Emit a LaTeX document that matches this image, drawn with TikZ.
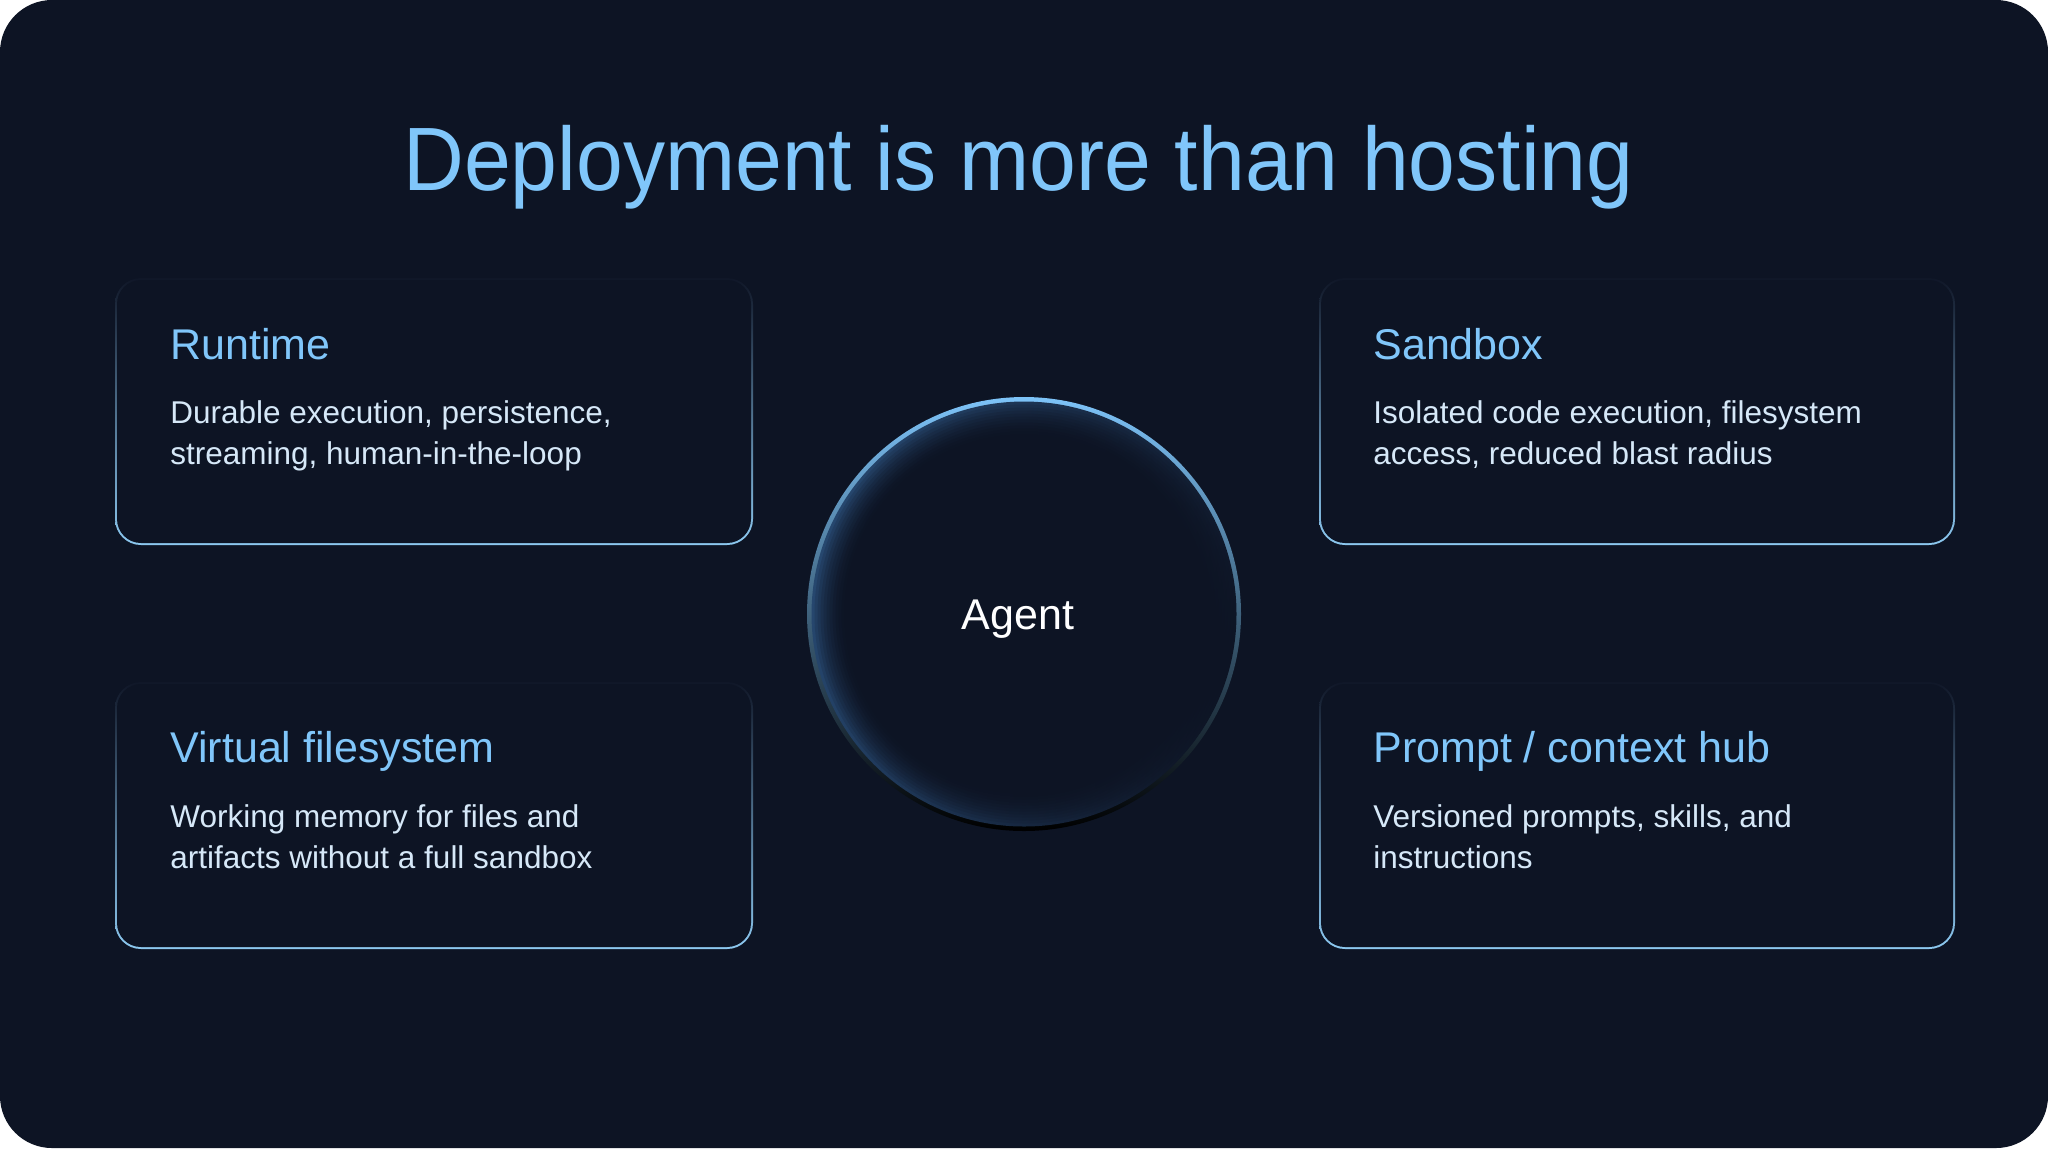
\documentclass[tikz,border=0pt]{standalone}
\usepackage{fontspec}
\setmainfont{Liberation Sans}
\definecolor{cbg}{RGB}{13,20,36}
\definecolor{ctitle}{RGB}{128,198,250}
\definecolor{cdesc}{RGB}{214,232,248}
\definecolor{cedgeb}{RGB}{140,200,240}
\definecolor{cedgem}{RGB}{42,60,86}
\definecolor{cedget}{RGB}{16,23,40}
\definecolor{cring}{RGB}{125,195,248}
\definecolor{cringm}{RGB}{18,28,42}
\definecolor{cglow}{RGB}{55,105,160}
\begin{document}
\begin{tikzpicture}[x=0.5pt,y=-0.5pt,
  boxtitle/.style={anchor=base west, inner sep=0, text=ctitle, font=\fontsize{21.5}{26}\selectfont},
  boxdesc/.style={anchor=base west, inner sep=0, text=cdesc, font=\fontsize{15.75}{20}\selectfont},
  cardedge/.style={top color=cedget, middle color=cedgem, bottom color=cedgeb, rounded corners=13pt},
  cardfill/.style={fill=cbg, rounded corners=12pt},
]
\useasboundingbox (0,0) rectangle (2048,1148);
\fill[white] (0,0) rectangle (2048,1148);
\fill[cbg, rounded corners=26pt] (0,0) rectangle (2048,1148);

% title
\node (title) [anchor=base, inner sep=0, text=ctitle, font=\fontsize{45}{54}\selectfont]
  at (1018.5,190) {\scalebox{0.935}[1]{Deployment is more than hosting}};

% cards
\shade[cardedge] (115,278) rectangle (753,545);
\fill[cardfill] (117,280) rectangle (751,543);
\shade[cardedge] (1319,278) rectangle (1955,545);
\fill[cardfill] (1321,280) rectangle (1953,543);
\shade[cardedge] (115,682) rectangle (753,949);
\fill[cardfill] (117,684) rectangle (751,947);
\shade[cardedge] (1319,682) rectangle (1955,949);
\fill[cardfill] (1321,684) rectangle (1953,947);

% card texts
\node (rt) [boxtitle] at (170,359) {Runtime};
\node (rd1) [boxdesc] at (170,423) {Durable execution, persistence,};
\node (rd2) [boxdesc] at (170,464) {streaming, human-in-the-loop};

\node (st) [boxtitle] at (1373,359) {Sandbox};
\node (sd1) [boxdesc] at (1373,423) {Isolated code execution, filesystem};
\node (sd2) [boxdesc] at (1373,464) {access, reduced blast radius};

\node (vt) [boxtitle] at (170,762) {Virtual filesystem};
\node (vd1) [boxdesc] at (170,827) {Working memory for files and};
\node (vd2) [boxdesc] at (170,868) {artifacts without a full sandbox};

\node (pt) [boxtitle] at (1373,762) {Prompt / context hub};
\node (pd1) [boxdesc] at (1373,827) {Versioned prompts, skills, and};
\node (pd2) [boxdesc] at (1373,868) {instructions};

% agent circle
\coordinate (c) at (1024,614);
\shade[top color=cring, middle color=cringm, bottom color=black] (c) circle[radius=217];
\foreach \k in {0,...,11}{
  \pgfmathtruncatemacro{\p}{60*(1-\k/12)*(1-\k/12)}
  \pgfmathsetmacro{\r}{212.5-3*\k}
  \shade[left color=cglow!\p!cbg, right color=cbg, shading angle=75] (c) circle[radius=\r];
}
\fill[cbg] (c) circle[radius=176];
\node (agent) [anchor=base, inner sep=0, text=white, font=\fontsize{21.5}{26}\selectfont] at (1018,629) {Agent};
\end{tikzpicture}
\end{document}
